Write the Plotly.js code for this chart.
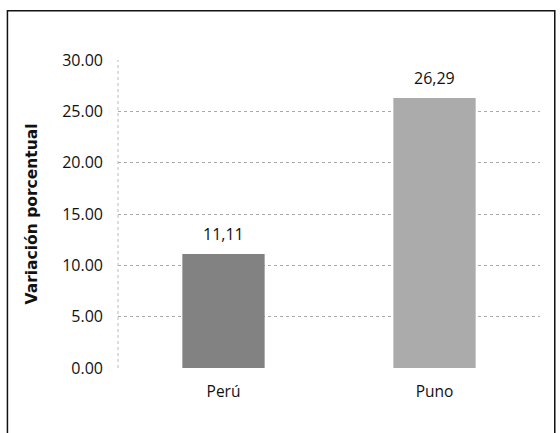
<!DOCTYPE html>
<html><head><meta charset="utf-8">
<script src="https://cdn.plot.ly/plotly-3.0.1.min.js"></script>
<style>body{margin:0;background:#fff}#c{width:560px;height:433px}</style>
</head><body><div id="c"></div>
<script>
const categories = ["Perú", "Puno"];
const values = [11.11, 26.29];
const labels = ["11,11", "26,29"];
const yTicks = [0, 5, 10, 15, 20, 25, 30];
const yTickText = ["0.00", "5.00", "10.00", "15.00", "20.00", "25.00", "30.00"];

const fontFam = "'Open Sans', sans-serif";
Plotly.newPlot("c", [{
  type: "bar", x: categories, y: values,
  marker: {color: ["#828282", "#ababab"], line: {width: 0}},
  hoverinfo: "none"
}], {
  width: 560, height: 433,
  margin: {l: 118, r: 20, t: 60, b: 65},
  paper_bgcolor: "#fff", plot_bgcolor: "#fff",
  showlegend: false, bargap: 0.61,
  font: {family: fontFam, size: 15, color: "#111"},
  annotations: categories.map((c, i) => ({
    x: c, y: values[i], xref: "x", yref: "y", text: labels[i], showarrow: false,
    yanchor: "bottom", yshift: 7, font: {family: fontFam, size: 16, color: "#111"}
  })),
  xaxis: {showgrid: false, zeroline: false, showline: false, ticks: "", ticklabelstandoff: 12,
          tickfont: {family: fontFam, size: 15.5, color: "#111"}},
  yaxis: {range: [0, 30], tickvals: yTicks, ticktext: yTickText, showgrid: true,
          gridcolor: "#aaaaaa", griddash: "dot", gridwidth: 1, zeroline: false, showline: false,
          ticks: "", ticklabelstandoff: 14,
          tickfont: {family: fontFam, size: 16, color: "#111"},
          title: {text: "Variación porcentual", standoff: 20, font: {family: "'DejaVu Sans', sans-serif", size: 15.5, color: "#111", weight: "bold"}}},
  shapes: [
    {type: "rect", xref: "paper", yref: "paper", x0: -0.262, x1: 1.035, y0: -0.28, y1: 1.16,
     line: {color: "#111", width: 1.5}, fillcolor: "rgba(0,0,0,0)"},
    {type: "line", xref: "paper", yref: "paper", x0: 0, x1: 0, y0: 0, y1: 1,
     line: {color: "#bbb", width: 1, dash: "dot"}}
  ]
}, {staticPlot: true});
</script></body></html>
